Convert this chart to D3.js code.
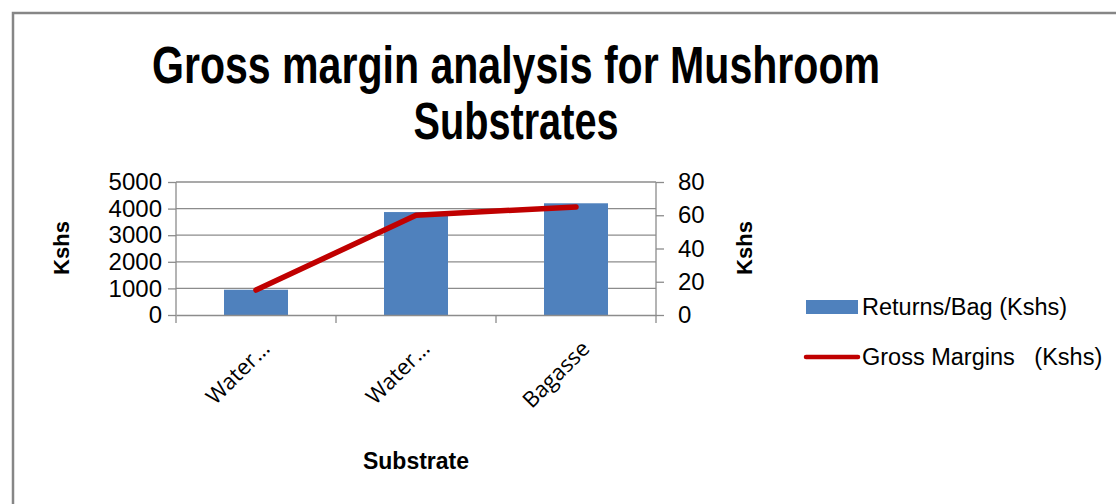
<!DOCTYPE html>
<html>
<head>
<meta charset="utf-8">
<script src="https://cdn.jsdelivr.net/npm/d3@7"></script>
<style>
body{margin:0;background:#fff;}
text{fill:#000;}
</style>
</head>
<body>
<script>
var categories=["Water…","Water…","Bagasse"];
var returnsPerBag=[950,3870,4200];
var grossMargins=[15,60,65];
var leftTicks=[0,1000,2000,3000,4000,5000];
var rightTicks=[0,20,40,60,80];

var svg=d3.select("body").append("svg")
    .attr("width",1116).attr("height",504);

svg.append("rect").attr("x",13).attr("y",13)
   .attr("width",1120).attr("height",500)
   .attr("fill","#fff").attr("stroke","#868686").attr("stroke-width",2.5);

var X=d3.scaleBand().domain(d3.range(categories.length)).range([176,656]);
var YL=d3.scaleLinear().domain([0,5000]).range([315,182]);
var YR=d3.scaleLinear().domain([0,80]).range([315,182]);

// gridlines
svg.append("g").selectAll("line").data(leftTicks.slice(1)).enter().append("line")
   .attr("x1",176).attr("x2",656)
   .attr("y1",function(d){return YL(d);}).attr("y2",function(d){return YL(d);})
   .attr("stroke","#8c8c8c").attr("stroke-width",1.3);

// bars
var bw=X.bandwidth()*0.4;
svg.append("g").selectAll("rect").data(returnsPerBag).enter().append("rect")
   .attr("x",function(d,i){return X(i)+X.bandwidth()/2-bw/2;})
   .attr("y",function(d){return YL(d);})
   .attr("width",bw)
   .attr("height",function(d){return 315-YL(d);})
   .attr("fill","#4f81bd");

// axes
var gL=svg.append("g").attr("transform","translate(176,0)")
   .call(d3.axisLeft(YL).tickValues(leftTicks).tickFormat(d3.format("d")).tickSize(8).tickPadding(6));
var gR=svg.append("g").attr("transform","translate(656,0)")
   .call(d3.axisRight(YR).tickValues(rightTicks).tickFormat(d3.format("d")).tickSize(8).tickPadding(14));
var gX=svg.append("g").attr("transform","translate(0,315)")
   .call(d3.axisBottom(X).tickValues([]).tickSize(0));
[gL,gR,gX].forEach(function(g){
  g.select(".domain").attr("stroke","#8c8c8c").attr("stroke-width",1.3);
  g.selectAll(".tick line").attr("stroke","#8c8c8c").attr("stroke-width",1.3);
  g.selectAll(".tick text").attr("font-family","'Liberation Sans', Arial").attr("font-size",24).attr("fill","#000");
});
gL.select(".domain").attr("d","M0,182V315");
gR.select(".domain").attr("d","M0,182V315");
// category boundary ticks
svg.append("g").selectAll("line").data(d3.range(categories.length+1)).enter().append("line")
   .attr("x1",function(d){return 176+d*X.bandwidth();})
   .attr("x2",function(d){return 176+d*X.bandwidth();})
   .attr("y1",315).attr("y2",323)
   .attr("stroke","#8c8c8c").attr("stroke-width",1.3);

// category labels
svg.append("g").selectAll("text").data(categories).enter().append("text")
   .attr("transform",function(d,i){return "translate("+(X(i)+X.bandwidth()/2+15)+",350) rotate(-45)";})
   .attr("text-anchor","end")
   .attr("font-family","'Open Sans', sans-serif").attr("font-size",22)
   .text(function(d){return d;});

// line
var line=d3.line()
   .x(function(d,i){return X(i)+X.bandwidth()/2;})
   .y(function(d){return YR(d);});
svg.append("path").datum(grossMargins)
   .attr("d",line).attr("fill","none")
   .attr("stroke","#c00000").attr("stroke-width",5.5)
   .attr("stroke-linecap","round").attr("stroke-linejoin","round");

// title
var title=svg.append("g").attr("font-family","'Liberation Sans', Arial, sans-serif")
   .attr("font-weight","bold").attr("font-size",51).attr("text-anchor","middle");
title.append("text").attr("x",516).attr("y",83).attr("textLength",728).attr("lengthAdjust","spacingAndGlyphs")
   .text("Gross margin analysis for Mushroom");
title.append("text").attr("x",516).attr("y",139).attr("textLength",205).attr("lengthAdjust","spacingAndGlyphs")
   .text("Substrates");

// axis titles
svg.append("text").attr("transform","translate(69,248) rotate(-90)")
   .attr("text-anchor","middle").attr("font-family","'Liberation Sans', Arial")
   .attr("font-weight","bold").attr("font-size",22).text("Kshs");
svg.append("text").attr("transform","translate(752,248) rotate(-90)")
   .attr("text-anchor","middle").attr("font-family","'Liberation Sans', Arial")
   .attr("font-weight","bold").attr("font-size",22).text("Kshs");
svg.append("text").attr("x",416).attr("y",469)
   .attr("text-anchor","middle").attr("font-family","'Liberation Sans', Arial")
   .attr("font-weight","bold").attr("font-size",23).text("Substrate");

// legend
var lg=svg.append("g").attr("font-family","'Liberation Sans', Arial").attr("font-size",23.5);
lg.append("rect").attr("x",806).attr("y",300).attr("width",52).attr("height",14).attr("fill","#4f81bd");
lg.append("text").attr("x",862).attr("y",315).text("Returns/Bag (Kshs)");
lg.append("line").attr("x1",806).attr("x2",858).attr("y1",357).attr("y2",357)
   .attr("stroke","#c00000").attr("stroke-width",4.5).attr("stroke-linecap","round");
lg.append("text").attr("x",862).attr("y",365).attr("xml:space","preserve").text("Gross Margins   (Kshs)");
</script>
</body>
</html>
